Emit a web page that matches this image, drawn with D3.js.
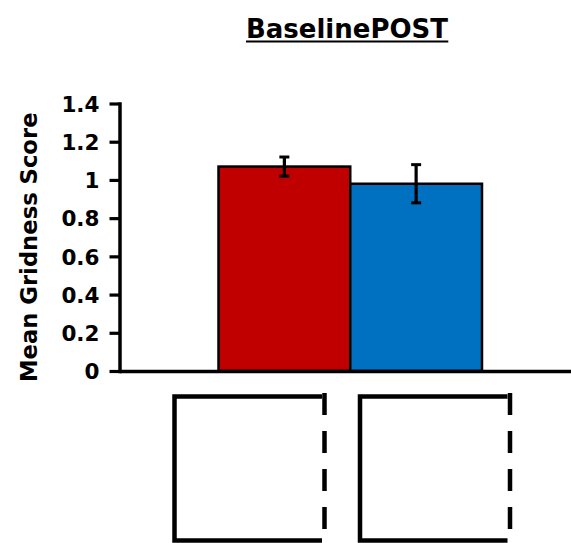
<!DOCTYPE html>
<html>
<head>
<meta charset="utf-8">
<script src="https://cdn.jsdelivr.net/npm/d3@7"></script>
<style>
  body { margin: 0; background: #fff; }
  svg { display: block; }
  text { font-family: "DejaVu Sans", sans-serif; font-weight: bold; fill: #000; }
</style>
</head>
<body>
<svg width="571" height="543"></svg>
<script>
// data
var categories = ["Baseline", "POST"];
var means = [1.07, 0.98];
var errors = [0.05, 0.10];
var barColors = ["#C00000", "#0070C0"];
var yTicks = [0, 0.2, 0.4, 0.6, 0.8, 1, 1.2, 1.4];
var yTickLabels = ["0", "0.2", "0.4", "0.6", "0.8", "1", "1.2", "1.4"];
var title = "BaselinePOST";
var yTitle = "Mean Gridness Score";

var svg = d3.select("svg"),
    width = +svg.attr("width"),
    height = +svg.attr("height");

var axisX = 119.5, axisY = 371;

var y = d3.scaleLinear()
    .domain([0, 1.4])
    .range([axisY, 103.5]);

var x = d3.scaleBand()
    .domain(categories)
    .range([218.5, 482])
    .paddingInner(0);

// icons under the axis sit on their own band scale
var iconX = d3.scaleBand()
    .domain(categories)
    .range([174.5, 510])
    .paddingInner(0.1914);

// title
var t = svg.append("text")
    .attr("x", 347)
    .attr("y", 38)
    .attr("text-anchor", "middle")
    .style("font-size", "26px")
    .text(title);
var tb = t.node().getBBox();
svg.append("line")
    .attr("x1", tb.x).attr("x2", tb.x + tb.width)
    .attr("y1", 41.5).attr("y2", 41.5)
    .attr("stroke", "#000")
    .attr("stroke-width", 2.2);

// bars
svg.selectAll(".bar")
    .data(means)
    .enter().append("rect")
    .attr("class", "bar")
    .attr("x", function(d, i) { return x(categories[i]); })
    .attr("y", function(d) { return y(d); })
    .attr("width", x.bandwidth())
    .attr("height", function(d) { return axisY - y(d); })
    .attr("fill", function(d, i) { return barColors[i]; })
    .attr("stroke", "#000")
    .attr("stroke-width", 2.5);

// error bars
var eb = svg.selectAll(".err")
    .data(means)
    .enter().append("g")
    .attr("class", "err")
    .attr("transform", function(d, i) { return "translate(" + (x(categories[i]) + x.bandwidth() / 2) + ",0)"; });
eb.append("line")
    .attr("y1", function(d, i) { return y(d + errors[i]); })
    .attr("y2", function(d, i) { return y(d - errors[i]); })
    .attr("stroke", "#000").attr("stroke-width", 3.2);
eb.append("line")
    .attr("x1", -5).attr("x2", 5)
    .attr("y1", function(d, i) { return y(d + errors[i]); })
    .attr("y2", function(d, i) { return y(d + errors[i]); })
    .attr("stroke", "#000").attr("stroke-width", 3);
eb.append("line")
    .attr("x1", -5).attr("x2", 5)
    .attr("y1", function(d, i) { return y(d - errors[i]); })
    .attr("y2", function(d, i) { return y(d - errors[i]); })
    .attr("stroke", "#000").attr("stroke-width", 3);

// y axis
var yAxis = svg.append("g")
    .attr("transform", "translate(" + axisX + ",0)")
    .call(d3.axisLeft(y)
        .tickValues(yTicks)
        .tickFormat(function(d, i) { return yTickLabels[i]; })
        .tickSize(10)
        .tickSizeOuter(0)
        .tickPadding(10));
yAxis.select(".domain").attr("stroke-width", 3.5).attr("stroke-linecap", "square");
yAxis.selectAll(".tick line").attr("stroke-width", 3.2);
yAxis.selectAll(".tick text")
    .style("font-size", "21.5px")
    .style("font-family", "'DejaVu Sans', sans-serif")
    .attr("dy", "0.36em");

// x axis line
var xLine = d3.scaleLinear().range([axisX, width]);
var xAxis = svg.append("g")
    .attr("transform", "translate(0," + axisY + ")")
    .call(d3.axisBottom(xLine).tickValues([]).tickSizeOuter(0));
xAxis.select(".domain").attr("stroke-width", 3.5);

// y title
svg.append("text")
    .attr("transform", "translate(36.5," + ((y(0) + y(1.4)) / 2 + 10) + ") rotate(-90)")
    .attr("text-anchor", "middle")
    .style("font-size", "22.7px")
    .text(yTitle);

// category icons: open squares with a dashed right side
var iconTop = 396.5, iconBottom = 540.5;
var icons = svg.selectAll(".icon")
    .data(categories)
    .enter().append("g")
    .attr("class", "icon")
    .attr("transform", function(d) { return "translate(" + iconX(d) + ",0)"; });
icons.append("path")
    .attr("d", function() {
        var w = iconX.bandwidth();
        return "M" + (w - 2.5) + "," + iconTop + "H0V" + iconBottom + "H" + (w - 2.5);
    })
    .attr("fill", "none")
    .attr("stroke", "#000")
    .attr("stroke-width", 4.5);
icons.append("line")
    .attr("x1", iconX.bandwidth()).attr("x2", iconX.bandwidth())
    .attr("y1", 393).attr("y2", iconBottom)
    .attr("stroke", "#000")
    .attr("stroke-width", 4.5)
    .attr("stroke-dasharray", "22,16");
</script>
</body>
</html>
